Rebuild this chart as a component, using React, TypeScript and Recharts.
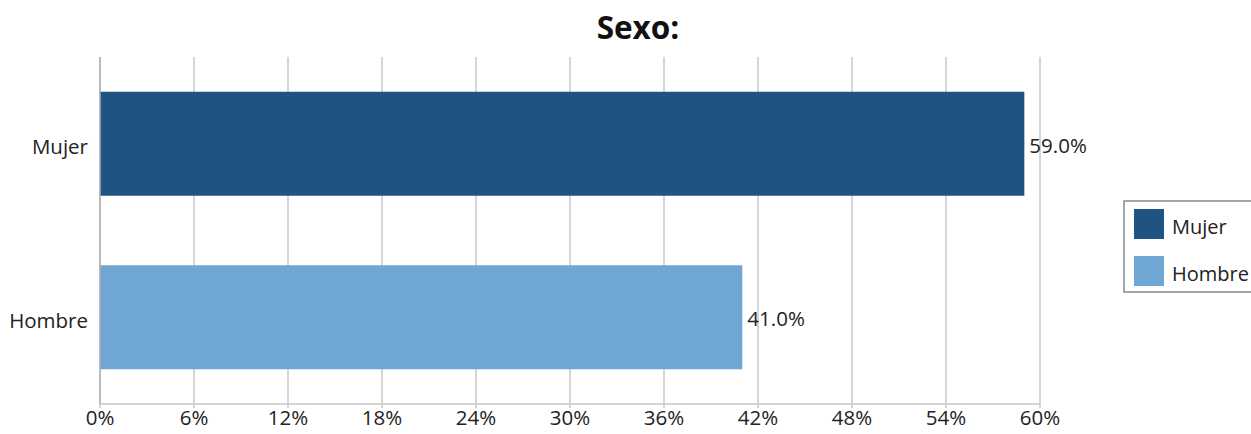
import React from "react";
import { BarChart, Bar, XAxis, YAxis, CartesianGrid, Cell, LabelList } from "recharts";

const categories = ["Mujer", "Hombre"];
const values = [59.0, 41.0];
const colors = ["#1F5482", "#6FA6D3"];
const xTicks = [0, 6, 12, 18, 24, 30, 36, 42, 48, 54, 60];
const title = "Sexo:";

const data = categories.map((c, i) => ({ name: c, value: values[i] }));
const FONT = "'Open Sans', 'Noto Sans', sans-serif";
const FS = 20.5;

const LegendBox = () => (
  <div
    style={{
      position: "absolute",
      left: 1123,
      top: 200,
      border: "2px solid #a6a6a6",
      padding: "7px 0 5px 9px",
      width: 150,
      background: "#fff",
      fontFamily: FONT,
      fontSize: 20,
      color: "#222",
      boxSizing: "border-box",
      whiteSpace: "nowrap",
    }}
  >
    {categories.map((c, i) => (
      <div
        key={c}
        style={{ display: "flex", alignItems: "center", height: 30, marginBottom: i === 0 ? 17 : 0 }}
      >
        <div style={{ width: 30, height: 30, background: colors[i], marginRight: 8, flexShrink: 0 }} />
        <span style={{ position: "relative", top: 2 }}>{c}</span>
      </div>
    ))}
  </div>
);

export default function App() {
  return (
    <div style={{ position: "absolute", left: 0, top: 0, width: 1251, height: 434, overflow: "hidden", background: "#fff" }}>
      <div
        style={{
          position: "absolute",
          left: 538,
          width: 200,
          top: 5,
          textAlign: "center",
          fontFamily: FONT,
          fontWeight: 700,
          fontSize: 31.5,
          color: "#111",
          lineHeight: "44px",
        }}
      >
        {title}
      </div>
      <BarChart
        width={1251}
        height={434}
        data={data}
        layout="vertical"
        margin={{ top: 57, right: 211, bottom: 0, left: 0 }}
        barCategoryGap="20%"
      >
        <CartesianGrid horizontal={false} stroke="#c8c8c8" strokeWidth={1.5} />
        <XAxis
          type="number"
          domain={[0, 60]}
          ticks={xTicks}
          tickFormatter={(v: number) => `${v}%`}
          axisLine={{ stroke: "#c8c8c8", strokeWidth: 1.5 }}
          tickLine={{ stroke: "#c8c8c8", strokeWidth: 1.5 }}
          tickSize={4}
          tick={{ fill: "#222", fontSize: FS, fontFamily: FONT }}
          height={30}
          interval={0}
        />
        <YAxis
          type="category"
          dataKey="name"
          width={100}
          axisLine={{ stroke: "#b0b0b0", strokeWidth: 1.5 }}
          tickLine={false}
          tick={{ fill: "#222", fontSize: FS, fontFamily: FONT, dy: 3 }}
          tickMargin={6}
        />
        <Bar dataKey="value" isAnimationActive={false}>
          {data.map((d, i) => (
            <Cell key={d.name} fill={colors[i]} />
          ))}
          <LabelList
            dataKey="value"
            position="right"
            offset={5}
            formatter={(v: any) => `${Number(v).toFixed(1)}%`}
            style={{ fill: "#222", fontSize: FS, fontFamily: FONT }}
            dy={2}
          />
        </Bar>
      </BarChart>
      <LegendBox />
    </div>
  );
}
